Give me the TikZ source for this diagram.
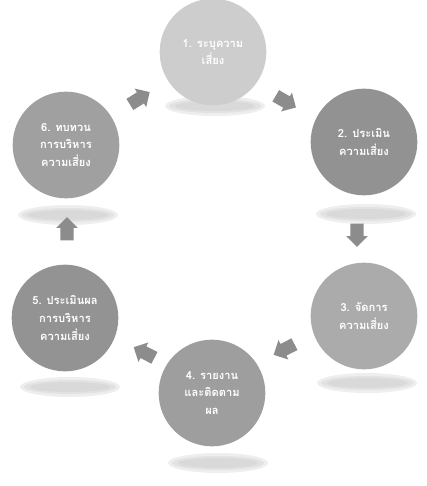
\documentclass[tikz,border=0pt]{standalone}
\usepackage{fontspec}
\newfontfamily\thaifont[Script=Thai]{Loma}
\usetikzlibrary{shapes.arrows}
\definecolor{stageA}{HTML}{CDCDCD}
\definecolor{stageB}{HTML}{929292}
\definecolor{stageC}{HTML}{ABABAB}
\definecolor{stageD}{HTML}{9E9E9E}
\definecolor{stageE}{HTML}{939393}
\definecolor{stageF}{HTML}{A0A0A0}
\definecolor{arrowgray}{HTML}{8C8C8C}
\tikzstyle{stage} = [circle, minimum size=3.2cm, inner sep=0pt, text=white, font=\thaifont\fontsize{9.5}{15}\selectfont\bfseries, align=center]
\tikzstyle{floor} = [fill=gray!45, opacity=0.3]
\tikzstyle{blockarrow} = [single arrow, fill=arrowgray, inner sep=0.19cm, minimum height=0.7cm, single arrow head extend=0.13cm]
\newcommand{\floorat}[1]{%
  \fill[floor] #1 ellipse (50 and 10);
  \fill[floor] #1 ellipse (46 and 7);
  \fill[floor] #1 ellipse (40 and 5);}

\begin{document}
\begin{tikzpicture}[x=0.03cm, y=-0.03cm]
        \useasboundingbox (0,0) rectangle (426,486);
        % shadows under the circles
        \floorat{(215,106)}
        \floorat{(366,214)}
        \floorat{(367,383)}
        \floorat{(218,463)}
        \floorat{(70,387)}
        \floorat{(68,215)}

        \node[stage, fill=stageA] at (213,52) (identify) {1. ระบุความ\\เสี่ยง};
        \node[stage, fill=stageB] at (364,142) (assess) {2. ประเมิน\\ความเสี่ยง};
        \node[stage, fill=stageC] at (364,316) (manage) {3. จัดการ\\ความเสี่ยง};
        \node[stage, fill=stageD] at (212,393) (report) {4. รายงาน\\และติดตาม\\ผล};
        \node[stage, fill=stageE] at (65,318) (evaluate) {5. ประเมินผล\\การบริหาร\\ความเสี่ยง};
        \node[stage, fill=stageF] at (66,145) (review) {6. ทบทวน\\การบริหาร\\ความเสี่ยง};

        \node[blockarrow, rotate=32] at (137,100) (a61) {};
        \node[blockarrow, rotate=-30] at (283,100) (a12) {};
        \node[blockarrow, rotate=-90] at (357,232) (a23) {};
        \node[blockarrow, rotate=207] at (287,348) (a34) {};
        \node[blockarrow, rotate=153] at (147,354) (a45) {};
        \node[blockarrow, rotate=90] at (67,232) (a56) {};

    \end{tikzpicture}
\end{document}
